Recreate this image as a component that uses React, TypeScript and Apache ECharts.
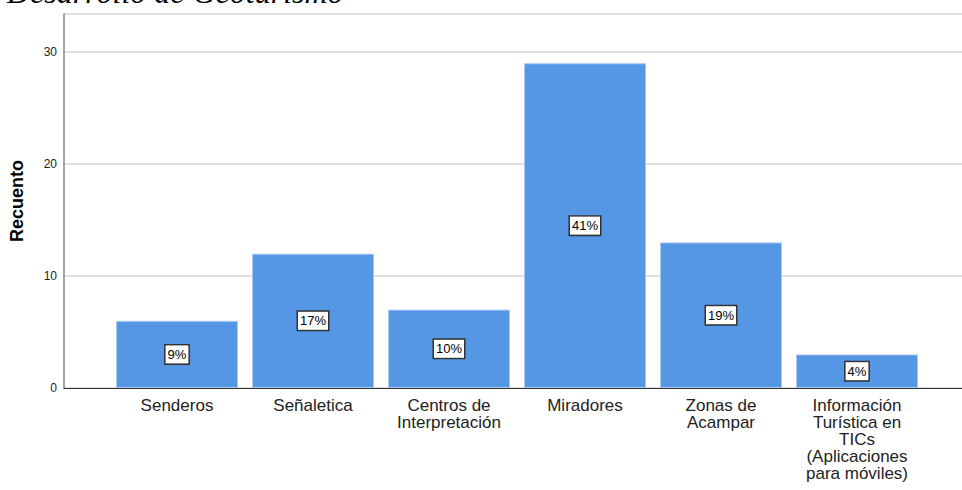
import React, { useEffect, useRef } from "react";
import * as echarts from "echarts";

const categories = [
  "Senderos",
  "Señaletica",
  "Centros de\nInterpretación",
  "Miradores",
  "Zonas de\nAcampar",
  "Información\nTurística en\nTICs\n(Aplicaciones\npara móviles)",
];
const counts = [6, 12, 7, 29, 13, 3];
const percentLabels = ["9%", "17%", "10%", "41%", "19%", "4%"];
const yTicks = [0, 10, 20, 30];
const titleText = "Desarrollo de Geoturismo";
const yAxisTitle = "Recuento";

export default function App() {
  const ref = useRef<HTMLDivElement>(null);
  useEffect(() => {
    if (!ref.current) return;
    const chart = echarts.init(ref.current, null, { renderer: "svg" });
    const yMax = 33.4;
    const top = 14;
    const bottom = 102;
    chart.setOption({
      animation: false,
      backgroundColor: "#ffffff",
      graphic: [
        {
          type: "text",
          left: 7,
          top: -24,
          style: {
            text: titleText,
            font: "italic 32px 'Liberation Serif', 'Times New Roman', serif",
            fill: "#000000",
          },
        },
      ],
      grid: [
        { left: 64, right: 0, top, bottom, containLabel: false },
        { left: 109, right: 37, top, bottom, containLabel: false },
      ],
      xAxis: [
        {
          type: "category",
          gridIndex: 0,
          data: ["a"],
          axisLine: { show: true, lineStyle: { color: "#333333", width: 1 } },
          axisTick: { show: false },
          axisLabel: { show: false },
          z: 5,
        },
        {
          type: "category",
          gridIndex: 1,
          data: categories,
          axisLine: { show: false },
          axisTick: { show: false },
          axisLabel: {
            interval: 0,
            margin: 9,
            color: "#222222",
            fontFamily: "'Liberation Sans', Arial, sans-serif",
            fontSize: 17,
            lineHeight: 17,
            align: "center",
          },
        },
      ],
      yAxis: [
        {
          type: "value",
          gridIndex: 0,
          min: 0,
          max: yMax,
          interval: 10,
          name: yAxisTitle,
          nameLocation: "middle",
          nameGap: 38,
          nameRotate: 90,
          nameTextStyle: {
            color: "#000000",
            fontFamily: "'Liberation Sans', Arial, sans-serif",
            fontWeight: "bold",
            fontSize: 18,
          },
          axisLine: { show: true, lineStyle: { color: "#888888", width: 1.5 } },
          axisTick: { show: false },
          axisLabel: {
            margin: 7,
            color: "#222222",
            fontFamily: "'Liberation Sans', Arial, sans-serif",
            fontSize: 12,
            formatter: (v: number) => (yTicks.includes(v) ? String(v) : ""),
          },
          splitLine: { show: true, lineStyle: { color: "#d4d4d4", width: 1.5 } },
        },
        {
          type: "value",
          gridIndex: 1,
          min: 0,
          max: yMax,
          interval: 10,
          axisLine: { show: false },
          axisTick: { show: false },
          axisLabel: { show: false },
          splitLine: { show: false },
        },
      ],
      series: [
        {
          type: "bar",
          xAxisIndex: 1,
          yAxisIndex: 1,
          data: counts,
          barWidth: 122,
          itemStyle: {
            color: "#5596e5",
            borderColor: "#a9c9f2",
            borderWidth: 1,
          },
          label: {
            show: true,
            position: "inside",
            formatter: (p: any) => percentLabels[p.dataIndex],
            color: "#000000",
            fontFamily: "'Liberation Sans', Arial, sans-serif",
            fontSize: 13,
            backgroundColor: "#ffffff",
            borderColor: "#333333",
            borderWidth: 1.5,
            padding: [3, 2, 2, 2],
          },
          z: 3,
        },
      ],
    });
    return () => chart.dispose();
  }, []);
  return (
    <div
      ref={ref}
      style={{ position: "fixed", left: 0, top: 0, width: 962, height: 490 }}
    />
  );
}
